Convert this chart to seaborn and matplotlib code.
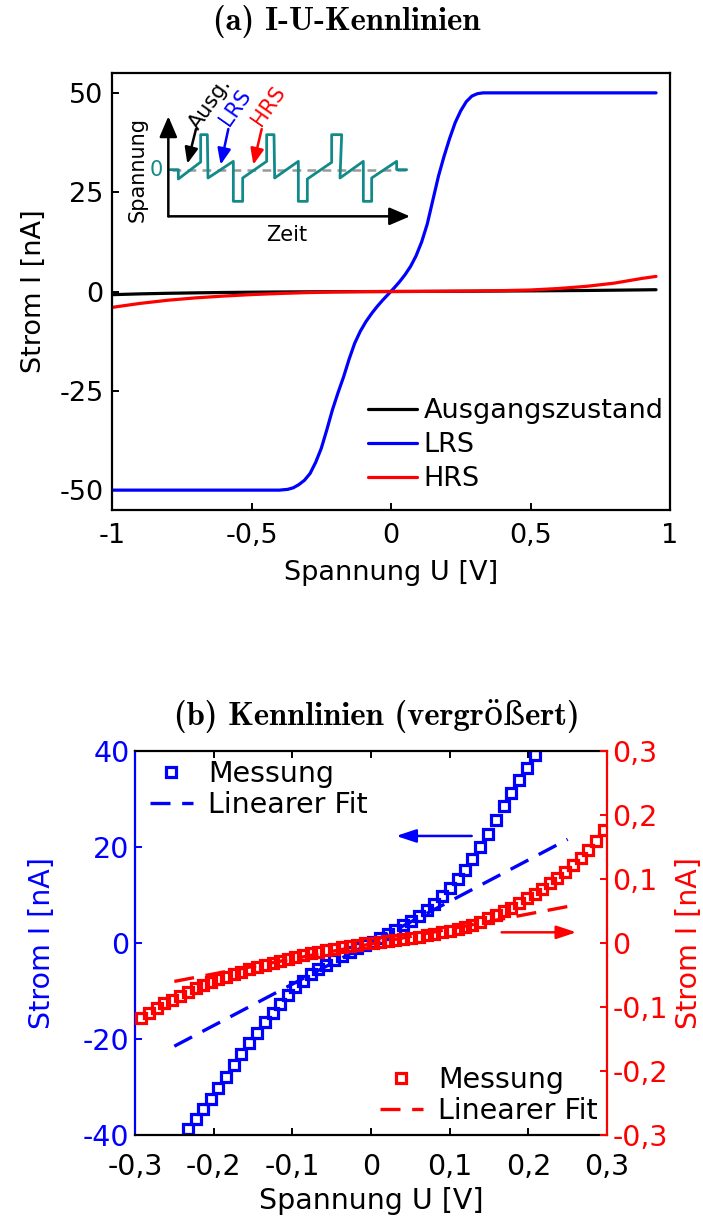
import matplotlib
matplotlib.use("Agg")
import matplotlib.pyplot as plt
from matplotlib.lines import Line2D
import seaborn as sns

# ---------------- (a) full I-U sweep ----------------
u_lrs = [-1.0, -0.5, -0.4, -0.37, -0.35, -0.33, -0.31, -0.29, -0.27, -0.25, -0.23,
         -0.21, -0.19, -0.17, -0.15, -0.13, -0.11, -0.09, -0.07, -0.05, -0.03, -0.01,
         0.01, 0.03, 0.05, 0.07, 0.09, 0.11, 0.13, 0.15, 0.17, 0.19, 0.21, 0.23, 0.25,
         0.27, 0.29, 0.31, 0.33, 0.5, 0.95]
i_lrs = [-50.0, -50.0, -50.0, -49.8, -49.4, -48.6, -47.5, -45.8, -43.0, -39.5, -34.8,
         -29.8, -25.5, -21.5, -17.0, -13.0, -10.0, -7.6, -5.6, -3.8, -2.2, -0.7,
         0.8, 2.4, 4.2, 6.3, 9.0, 12.5, 17.0, 23.0, 29.0, 34.0, 38.5, 42.5, 45.5,
         47.8, 49.2, 49.8, 50.0, 50.0, 50.0]

u_sweep = [-1.0, -0.9, -0.8, -0.7, -0.6, -0.5, -0.4, -0.3, -0.2, -0.1, 0.0,
           0.1, 0.2, 0.3, 0.4, 0.5, 0.6, 0.7, 0.8, 0.85, 0.9, 0.95]
i_initial = [-0.8, -0.6, -0.45, -0.34, -0.25, -0.18, -0.12, -0.08, -0.05, -0.02, 0.0,
             0.02, 0.05, 0.08, 0.12, 0.16, 0.21, 0.26, 0.33, 0.37, 0.41, 0.45]
i_hrs = [-4.0, -3.0, -2.2, -1.6, -1.15, -0.78, -0.5, -0.28, -0.12, -0.04, 0.0,
         0.02, 0.06, 0.12, 0.22, 0.38, 0.75, 1.3, 2.1, 2.7, 3.3, 3.8]

x_ticks_a = [-1, -0.5, 0, 0.5, 1]
x_labels_a = ["-1", "-0,5", "0", "0,5", "1"]
y_ticks_a = [-50, -25, 0, 25, 50]
y_labels_a = ["-50", "-25", "0", "25", "50"]

# Pulse scheme shown as inset (time, voltage in arbitrary units)
t_wave = [0.0, 0.25, 0.25, 0.92, 0.92, 1.12, 1.14, 1.9, 1.9, 2.18, 2.18, 2.9, 2.9, 3.12,
          3.14, 3.85, 3.85, 4.12, 4.12, 4.85, 4.85, 5.15, 5.1, 5.8, 5.8, 6.05, 6.05,
          6.8, 6.8, 7.1]
v_wave = [0.0, 0.0, -0.28, 0.23, 1.05, 1.05, -0.25, 0.25, -0.95, -0.95, -0.25, 0.25,
          1.05, 1.05, -0.25, 0.25, -0.95, -0.95, -0.28, 0.22, 1.05, 1.05, -0.25, 0.25,
          -0.95, -0.95, -0.25, 0.25, 0.0, 0.0]

# ---------------- (b) zoomed region with linear fits ----------------
u_meas = [-0.292, -0.282, -0.272, -0.263, -0.253, -0.243, -0.233, -0.223, -0.214, -0.204,
          -0.194, -0.184, -0.174, -0.165, -0.155, -0.145, -0.135, -0.125, -0.116, -0.106,
          -0.096, -0.086, -0.076, -0.067, -0.057, -0.047, -0.037, -0.027, -0.018, -0.008,
          0.002, 0.012, 0.022, 0.031, 0.041, 0.051, 0.061, 0.071, 0.080, 0.090,
          0.100, 0.110, 0.120, 0.129, 0.139, 0.149, 0.159, 0.169, 0.178, 0.188,
          0.198, 0.208, 0.218, 0.227, 0.237, 0.247, 0.257, 0.267, 0.276, 0.286, 0.296]
# LRS measurement covers indices 6..51 of the voltage grid
i_lrs_meas = [-38.8, -36.7, -34.6, -32.6, -30.3, -27.9, -25.4, -23.1, -20.9, -18.7,
              -16.5, -14.5, -12.7, -10.8, -9.2, -7.85, -6.5, -5.5, -4.6, -3.5,
              -2.7, -1.8, -1.1, -0.4, 0.3, 1.1, 1.9, 2.7, 3.7, 4.5,
              5.7, 6.9, 8.2, 9.7, 11.4, 13.3, 15.2, 17.5, 19.9, 22.8,
              25.6, 28.5, 31.3, 33.9, 36.5, 39.1]
i_hrs_meas = [-0.1177, -0.1099, -0.1020, -0.0943, -0.0890, -0.0828, -0.0760, -0.0708,
              -0.0656, -0.0604, -0.0568, -0.0526, -0.0490, -0.0448, -0.0411, -0.0370,
              -0.0344, -0.0307, -0.0276, -0.0245, -0.0214, -0.0188, -0.0161, -0.0135,
              -0.0109, -0.0089, -0.0068, -0.0047, -0.0026, -0.0005, 0.0005, 0.0018,
              0.0034, 0.0053, 0.0068, 0.0082, 0.0100, 0.0122, 0.0143, 0.0165, 0.0190,
              0.0216, 0.0253, 0.0287, 0.0335, 0.0385, 0.0440, 0.0495, 0.0550, 0.0625,
              0.0700, 0.0770, 0.0850, 0.0930, 0.1020, 0.1110, 0.1215, 0.1335, 0.1460,
              0.1600, 0.1766]
u_fit = [-0.25, 0.25]
i_lrs_fit = [-21.5, 21.6]
i_hrs_fit = [-0.060, 0.057]

x_ticks_b = [-0.3, -0.2, -0.1, 0, 0.1, 0.2, 0.3]
x_labels_b = ["-0,3", "-0,2", "-0,1", "0", "0,1", "0,2", "0,3"]
yl_ticks_b = [-40, -20, 0, 20, 40]
yl_labels_b = ["-40", "-20", "0", "20", "40"]
yr_ticks_b = [-0.3, -0.2, -0.1, 0, 0.1, 0.2, 0.3]
yr_labels_b = ["-0,3", "-0,2", "-0,1", "0", "0,1", "0,2", "0,3"]

BLUE, RED, BLACK, TEAL = "#0000ff", "#ff0000", "#000000", "#138a8a"

sns.set_style("ticks")
plt.rcParams.update({
    "font.family": ["DejaVu Sans"],
    "axes.linewidth": 1.6,
    "text.color": "black",
    "axes.labelcolor": "black",
    "xtick.color": "black",
    "ytick.color": "black",
    "axes.edgecolor": "black",
})
FS_A = 19.5
FS_B = 20.5

fig = plt.figure(figsize=(7.03, 12.17), dpi=100)
title_font = dict(family=["cmb10", "DejaVu Serif"], fontsize=23.5)
fig.text(347 / 703, 1 - 22 / 1217, "(a) I-U-Kennlinien", ha="center", va="center", **title_font)
fig.text(377 / 703, 1 - 716 / 1217, "(b) Kennlinien (vergrößert)", ha="center", va="center", **title_font)

# ---------- panel (a) ----------
ax = fig.add_axes([112 / 703, 1 - 510 / 1217, 558 / 703, 437 / 1217])
sns.lineplot(x=u_sweep, y=i_initial, ax=ax, color=BLACK, lw=2.3, estimator=None, sort=False)
sns.lineplot(x=u_lrs, y=i_lrs, ax=ax, color=BLUE, lw=2.3, estimator=None, sort=False)
sns.lineplot(x=u_sweep, y=i_hrs, ax=ax, color=RED, lw=2.3, estimator=None, sort=False)
ax.set_xlim(-1, 1)
ax.set_ylim(-55, 55)
ax.set_xticks(x_ticks_a, x_labels_a)
ax.set_yticks(y_ticks_a, y_labels_a)
ax.tick_params(direction="in", length=5, width=1.4, labelsize=FS_A, pad=6)
ax.tick_params(axis="x", pad=9.5)
ax.set_xlabel("Spannung U [V]", fontsize=FS_A, labelpad=8)
ax.set_ylabel("Strom I [nA]", fontsize=FS_A, labelpad=9)
handles_a = [Line2D([], [], color=c, lw=2.3) for c in (BLACK, BLUE, RED)]
ax.legend(handles_a, ["Ausgangszustand", "LRS", "HRS"], loc="upper left",
          bbox_to_anchor=((368 - 112) / 558, (510 - 398) / 437), frameon=False,
          fontsize=FS_A, handlelength=1.8, handletextpad=0.25, labelspacing=0.3,
          borderpad=0, borderaxespad=0)

# inset: pulse scheme
ax_in = fig.add_axes([130 / 703, 1 - 243 / 1217, 290 / 703, 160 / 1217])
ax_in.set_xlim(-1.2, 7.5)
ax_in.set_ylim(-2.2, 2.6)
ax_in.axis("off")
ax_in.hlines(0, t_wave[0] + 0.05, t_wave[-1], colors="0.6", linestyles=(0, (3.5, 2.5)), lw=1.8)
sns.lineplot(x=t_wave, y=v_wave, ax=ax_in, color=TEAL, lw=2.0, estimator=None, sort=False)
axis_arrow = dict(arrowstyle="-|>,head_length=0.7,head_width=0.3", color="k", lw=1.8,
                  mutation_scale=18, shrinkA=0, shrinkB=0)
ax_in.annotate("", xy=(-0.05, 1.6), xytext=(-0.05, -1.4), arrowprops=axis_arrow)
ax_in.annotate("", xy=(7.2, -1.4), xytext=(-0.05, -1.4), arrowprops=axis_arrow)
ax_in.text(-0.96, 0.0, "Spannung", rotation=90, ha="center", va="center", fontsize=15)
ax_in.text(3.49, -1.95, "Zeit", ha="center", va="center", fontsize=15)
ax_in.text(-0.4, 0.0, "0", ha="center", va="center", fontsize=15, color=TEAL)
for label, col, tpos, tail, tip in [
    ("Ausg.", BLACK, (1.2, 2.0), (0.78, 1.22), (0.52, 0.18)),
    ("LRS", BLUE, (1.95, 1.88), (1.75, 1.22), (1.52, 0.15)),
    ("HRS", RED, (2.95, 1.9), (2.75, 1.22), (2.5, 0.15)),
]:
    ax_in.text(*tpos, label, rotation=55, ha="center", va="center", fontsize=15, color=col)
    ax_in.annotate("", xy=tip, xytext=tail,
                   arrowprops=dict(arrowstyle="-|>,head_length=0.6,head_width=0.25",
                                   color=col, lw=1.8, mutation_scale=16, shrinkA=0, shrinkB=0))

# ---------- panel (b) ----------
axb = fig.add_axes([135 / 703, 1 - 1135 / 1217, 472 / 703, 384 / 1217])
axr = axb.twinx()
mk = dict(marker="s", linestyle="none", markersize=7, markeredgewidth=2.3, markerfacecolor="none")
sns.lineplot(x=u_meas[6:52], y=i_lrs_meas, ax=axb, color=BLUE, markeredgecolor=BLUE,
             estimator=None, sort=False, **mk)
sns.lineplot(x=u_fit, y=i_lrs_fit, ax=axb, color=BLUE, lw=2.4, dashes=(6, 3.5),
             estimator=None, sort=False)
sns.lineplot(x=u_meas, y=i_hrs_meas, ax=axr, color=RED, markeredgecolor=RED,
             estimator=None, sort=False, **mk)
sns.lineplot(x=u_fit, y=i_hrs_fit, ax=axr, color=RED, lw=2.4, dashes=(6, 3.5),
             estimator=None, sort=False)

axb.set_xlim(-0.3, 0.3)
axb.set_ylim(-40, 40)
axr.set_ylim(-0.3, 0.3)
axb.set_xticks(x_ticks_b, x_labels_b)
axb.set_yticks(yl_ticks_b, yl_labels_b)
axr.set_yticks(yr_ticks_b, yr_labels_b)
axb.tick_params(axis="x", direction="in", length=5, width=1.4, labelsize=FS_B, pad=13, top=True)
axb.tick_params(axis="y", direction="in", length=5, width=1.4, labelsize=FS_B, colors=BLUE, pad=4)
axr.tick_params(axis="y", direction="in", length=5, width=1.4, labelsize=FS_B, colors=RED, pad=4)
axb.spines["left"].set_color(BLUE)
axb.spines["right"].set_visible(False)
axr.spines["left"].set_visible(False)
axr.spines["right"].set_color(RED)
axr.spines["top"].set_visible(False)
axr.spines["bottom"].set_visible(False)
axb.set_xlabel("Spannung U [V]", fontsize=FS_B, labelpad=4)
axb.set_ylabel("Strom I [nA]", fontsize=FS_B, color=BLUE, labelpad=19)
axr.set_ylabel("Strom I [nA]", fontsize=FS_B, color=RED, labelpad=5)

arr = dict(arrowstyle="-|>,head_length=0.6,head_width=0.2", lw=1.8, mutation_scale=20,
           shrinkA=0, shrinkB=0)
axb.annotate("", xy=(0.032, 22.3), xytext=(0.128, 22.3), arrowprops=dict(color=BLUE, **arr))
axr.annotate("", xy=(0.261, 0.0167), xytext=(0.166, 0.0167), arrowprops=dict(color=RED, **arr))

def fit_legend(ax, col, **kw):
    hs = [Line2D([], [], color=col, marker="s", linestyle="none", markersize=7,
                 markeredgewidth=2.3, markerfacecolor="none"),
          Line2D([], [], color=col, lw=2.4, dashes=(6, 3.5))]
    return ax.legend(hs, ["Messung", "Linearer Fit"], frameon=False, fontsize=FS_B,
                     handlelength=1.5, handletextpad=0.55, labelspacing=0.1,
                     borderpad=0, borderaxespad=0, **kw)

fit_legend(axb, BLUE, loc="upper left", bbox_to_anchor=((150 - 135) / 472, (1135 - 760) / 384))
fit_legend(axr, RED, loc="lower right", bbox_to_anchor=((598 - 135) / 472, (1135 - 1125) / 384))

fig.savefig("out.png", dpi=100)
